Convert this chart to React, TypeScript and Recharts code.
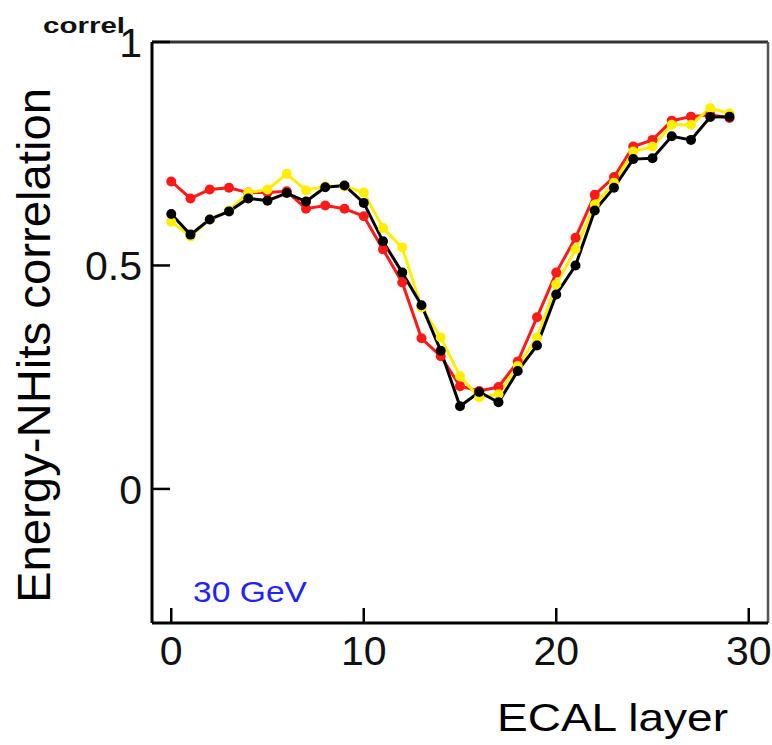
import { LineChart, Line, XAxis, YAxis, ReferenceLine } from "recharts";

const layers = [
  0, 1, 2, 3, 4, 5, 6, 7, 8, 9, 10, 11, 12, 13, 14, 15, 16, 17, 18, 19, 20,
  21, 22, 23, 24, 25, 26, 27, 28, 29,
];

const redValues = [
  0.688, 0.65, 0.67, 0.674, 0.663, 0.663, 0.666, 0.627, 0.634, 0.627, 0.61,
  0.536, 0.462, 0.337, 0.297, 0.23, 0.219, 0.228, 0.285, 0.384, 0.484, 0.562,
  0.658, 0.698, 0.766, 0.781, 0.824, 0.833, 0.837, 0.83,
];

const yellowValues = [
  0.598, 0.565, 0.603, 0.623, 0.663, 0.67, 0.705, 0.668, 0.677, 0.677, 0.663,
  0.584, 0.54, 0.406, 0.339, 0.252, 0.205, 0.212, 0.275, 0.339, 0.458, 0.536,
  0.636, 0.685, 0.755, 0.766, 0.815, 0.815, 0.852, 0.84,
];

const blackValues = [
  0.615, 0.569, 0.603, 0.621, 0.65, 0.645, 0.662, 0.643, 0.675, 0.679, 0.64,
  0.554, 0.484, 0.411, 0.309, 0.185, 0.217, 0.194, 0.264, 0.321, 0.435, 0.5,
  0.623, 0.674, 0.738, 0.74, 0.789, 0.781, 0.832, 0.833,
];

const xTicks = [0, 10, 20, 30];
const yTicks = [0, 0.5, 1];

const data = layers.map((layer, i) => ({
  layer,
  red: redValues[i],
  yellow: yellowValues[i],
  black: blackValues[i],
}));

const FONT = "'Liberation Sans', Arial, Helvetica, sans-serif";

function XTick(props: any) {
  const { x, y, payload } = props;
  return (
    <g>
      <line x1={x} y1={y} x2={x} y2={y - 15} stroke="#000" strokeWidth={2.5} />
      <text
        x={x}
        y={y + 42}
        textAnchor="middle"
        fontSize={41}
        fontFamily={FONT}
        fill="#111"
      >
        {payload.value}
      </text>
    </g>
  );
}

function YTick(props: any) {
  const { x, y, payload } = props;
  return (
    <g>
      <line x1={x} y1={y} x2={x + 18} y2={y} stroke="#000" strokeWidth={2.5} />
      <text
        x={x - 10}
        y={y + 15}
        textAnchor="end"
        fontSize={41}
        fontFamily={FONT}
        fill="#111"
      >
        {payload.value}
      </text>
    </g>
  );
}

const series = [
  { key: "red", color: "#ff1a1a" },
  { key: "yellow", color: "#ffee00" },
  { key: "black", color: "#000000" },
];

export default function App() {
  return (
    <div style={{ position: "absolute", left: 0, top: 0, background: "#fff" }}>
      <LineChart
        width={772}
        height={745}
        data={data}
        margin={{ top: 42, right: 4, bottom: 62, left: 92 }}
      >
        <XAxis
          dataKey="layer"
          type="number"
          domain={[-1, 31]}
          ticks={xTicks}
          height={60}
          tickSize={0}
          tickMargin={0}
          tickLine={false}
          tick={<XTick />}
          axisLine={{ stroke: "#000", strokeWidth: 3 }}
          allowDataOverflow
          interval={0}
        />
        <YAxis
          type="number"
          domain={[-0.3, 1]}
          ticks={yTicks}
          width={60}
          tickSize={0}
          tickMargin={0}
          tickLine={false}
          tick={<YTick />}
          axisLine={{ stroke: "#000", strokeWidth: 3 }}
          allowDataOverflow
          interval={0}
        />
        <ReferenceLine y={1} stroke="#333" strokeWidth={3} />
        <ReferenceLine x={31} stroke="#555" strokeWidth={2.5} />
        {series.map((s) => (
          <Line
            key={s.key}
            type="linear"
            dataKey={s.key}
            stroke={s.color}
            strokeWidth={3}
            dot={{ r: 5, fill: s.color, stroke: s.color, strokeWidth: 0 }}
            activeDot={false}
            isAnimationActive={false}
          />
        ))}
        <text
          x={43}
          y={33}
          fontSize={22}
          fontWeight="bold"
          fontFamily={FONT}
          fill="#111"
          textLength={82}
          lengthAdjust="spacingAndGlyphs"
        >
          correl
        </text>
        <text
          transform="translate(50, 603) rotate(-90)"
          fontSize={46}
          fontFamily={FONT}
          fill="#000"
          textLength={515}
          lengthAdjust="spacingAndGlyphs"
        >
          Energy-NHits correlation
        </text>
        <text
          x={497}
          y={731}
          fontSize={39}
          fontFamily={FONT}
          fill="#000"
          textLength={231}
          lengthAdjust="spacingAndGlyphs"
        >
          ECAL layer
        </text>
        <text
          x={193}
          y={602}
          fontSize={30}
          fontFamily={FONT}
          fill="#2222ff"
          textLength={114}
          lengthAdjust="spacingAndGlyphs"
        >
          30 GeV
        </text>
      </LineChart>
    </div>
  );
}
